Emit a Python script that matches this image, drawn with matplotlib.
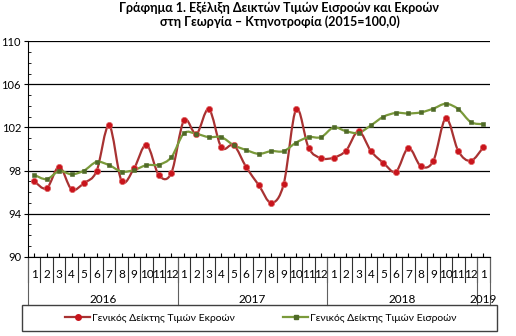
import matplotlib
matplotlib.use('Agg')
import matplotlib.pyplot as plt
import matplotlib.transforms as mtransforms
from matplotlib.path import Path
from matplotlib.patches import PathPatch, Rectangle
from matplotlib.lines import Line2D
import numpy as np

plt.rcParams['font.family'] = ['Lato', 'DejaVu Sans']

years = ['2016', '2017', '2018', '2019']
months = [str(m) for m in range(1, 13)] * 3 + ['1']

# Γενικός Δείκτης Τιμών Εκροών
output_idx = [97.0, 96.35, 98.35, 96.25, 96.85, 97.95, 102.2, 97.05, 98.2, 100.4, 97.55, 97.8,
              102.65, 101.4, 103.7, 100.15, 100.35, 98.3, 96.65, 95.0, 96.75, 103.7, 100.1, 99.15,
              99.2, 99.85, 101.65, 99.8, 98.7, 97.9, 100.1, 98.4, 98.9, 102.85, 99.8, 98.9,
              100.15]
# Γενικός Δείκτης Τιμών Εισροών
input_idx = [97.6, 97.2, 97.95, 97.65, 98.0, 98.8, 98.5, 97.9, 98.05, 98.5, 98.55, 99.25,
             101.45, 101.4, 101.1, 101.1, 100.35, 99.9, 99.55, 99.8, 99.8, 100.6, 101.1, 101.1,
             102.0, 101.65, 101.5, 102.2, 103.0, 103.35, 103.3, 103.4, 103.75, 104.2, 103.7, 102.5,
             102.3]

out_label = 'Γενικός Δείκτης Τιμών Εκροών'
in_label = 'Γενικός Δείκτης Τιμών Εισροών'

red_line, red_mark = '#A83232', '#C8141C'
green_line, green_mark = '#7A9A3A', '#4F6A28'


def smooth_path(y):
    # catmull-rom through the points, as cubic bezier segments
    pts = np.column_stack([np.arange(len(y)), y])
    ext = np.vstack([pts[0], pts, pts[-1]])
    verts = [pts[0]]
    codes = [Path.MOVETO]
    for i in range(len(pts) - 1):
        p0, p1, p2, p3 = ext[i], ext[i + 1], ext[i + 2], ext[i + 3]
        verts += [p1 + (p2 - p0) / 6, p2 - (p3 - p1) / 6, p2]
        codes += [Path.CURVE4] * 3
    return Path(verts, codes)


W, H = 516, 336
fig = plt.figure(figsize=(W / 100, H / 100), dpi=100)
ax = fig.add_axes([28 / W, 79.3 / H, 461.5 / W, 215.4 / H])

n = len(months)
x = np.arange(n)

ax.add_patch(PathPatch(smooth_path(output_idx), fill=False, edgecolor=red_line, lw=1.6, zorder=3))
ax.plot(x, output_idx, ls='none', marker='o', ms=4.5, mfc=red_mark, mec='#E06060', mew=0.5, zorder=4)
ax.add_patch(PathPatch(smooth_path(input_idx), fill=False, edgecolor=green_line, lw=1.6, zorder=3))
ax.plot(x, input_idx, ls='none', marker='s', ms=3.5, mfc=green_mark, mec=green_mark, mew=0.4, zorder=4)

ax.set_xlim(-0.5, n - 0.5)
ax.set_ylim(90, 110)
ax.set_yticks(range(90, 111, 4))
ax.set_yticks(range(90, 111, 1), minor=True)
ax.yaxis.grid(True, which='major', color='black', lw=0.9)
ax.set_axisbelow(True)
ax.tick_params(axis='y', which='major', direction='out', length=3, labelsize=8, pad=2)
ax.tick_params(axis='y', which='minor', direction='in', length=2.5)
ax.set_xticks(x)
ax.set_xticklabels([])
ax.tick_params(axis='x', direction='in', length=3)
for s in ['top', 'right']:
    ax.spines[s].set_visible(False)
ax.spines['left'].set_color('black')
ax.spines['bottom'].set_color('black')

# two-level category axis: months, then years
trans = mtransforms.blended_transform_factory(ax.transData, ax.transAxes)
for i, m in enumerate(months):
    ax.text(i, -0.084, m, transform=trans, ha='center', va='center', fontsize=8.5)
for k in range(n + 1):
    ax.add_line(Line2D([k - 0.5, k - 0.5], [0, -0.117], transform=trans, color='#303030',
                       lw=0.8, clip_on=False))
for k in [0, 12, 24, 36, 37]:
    ax.add_line(Line2D([k - 0.5, k - 0.5], [0, -0.224], transform=trans, color='#606060',
                       lw=0.8, clip_on=False))
for xc, yr in zip([5.5, 17.5, 29.5, 36], years):
    ax.text(xc, -0.2, yr, transform=trans, ha='center', va='center', fontsize=8.5)

fig.text(279 / W, 1 - 8 / H, 'Γράφημα 1. Εξέλιξη Δεικτών Τιμών Εισροών και Εκροών',
         ha='center', va='center', fontsize=9, fontweight='bold')
fig.text(280 / W, 1 - 22 / H, 'στη Γεωργία – Κτηνοτροφία (2015=100,0)',
         ha='center', va='center', fontsize=9, fontweight='bold')

# legend
fig.add_artist(Rectangle((22 / W, 5 / H), 475 / W, 26 / H, transform=fig.transFigure,
                         fill=False, edgecolor='#404040', lw=1))
handles = [Line2D([], [], color=red_line, lw=1.6, marker='o', ms=4, mfc=red_mark, mec=red_mark),
           Line2D([], [], color=green_line, lw=1.6, marker='s', ms=3.4, mfc=green_mark, mec=green_mark)]
fig.legend(handles, [out_label, in_label], loc='center', bbox_to_anchor=(261 / W, 1 - 318 / H),
           ncol=2, frameon=False, fontsize=7.5, handlelength=2.4, handletextpad=0.2,
           columnspacing=4.6)

fig.savefig('out.png', dpi=100)
